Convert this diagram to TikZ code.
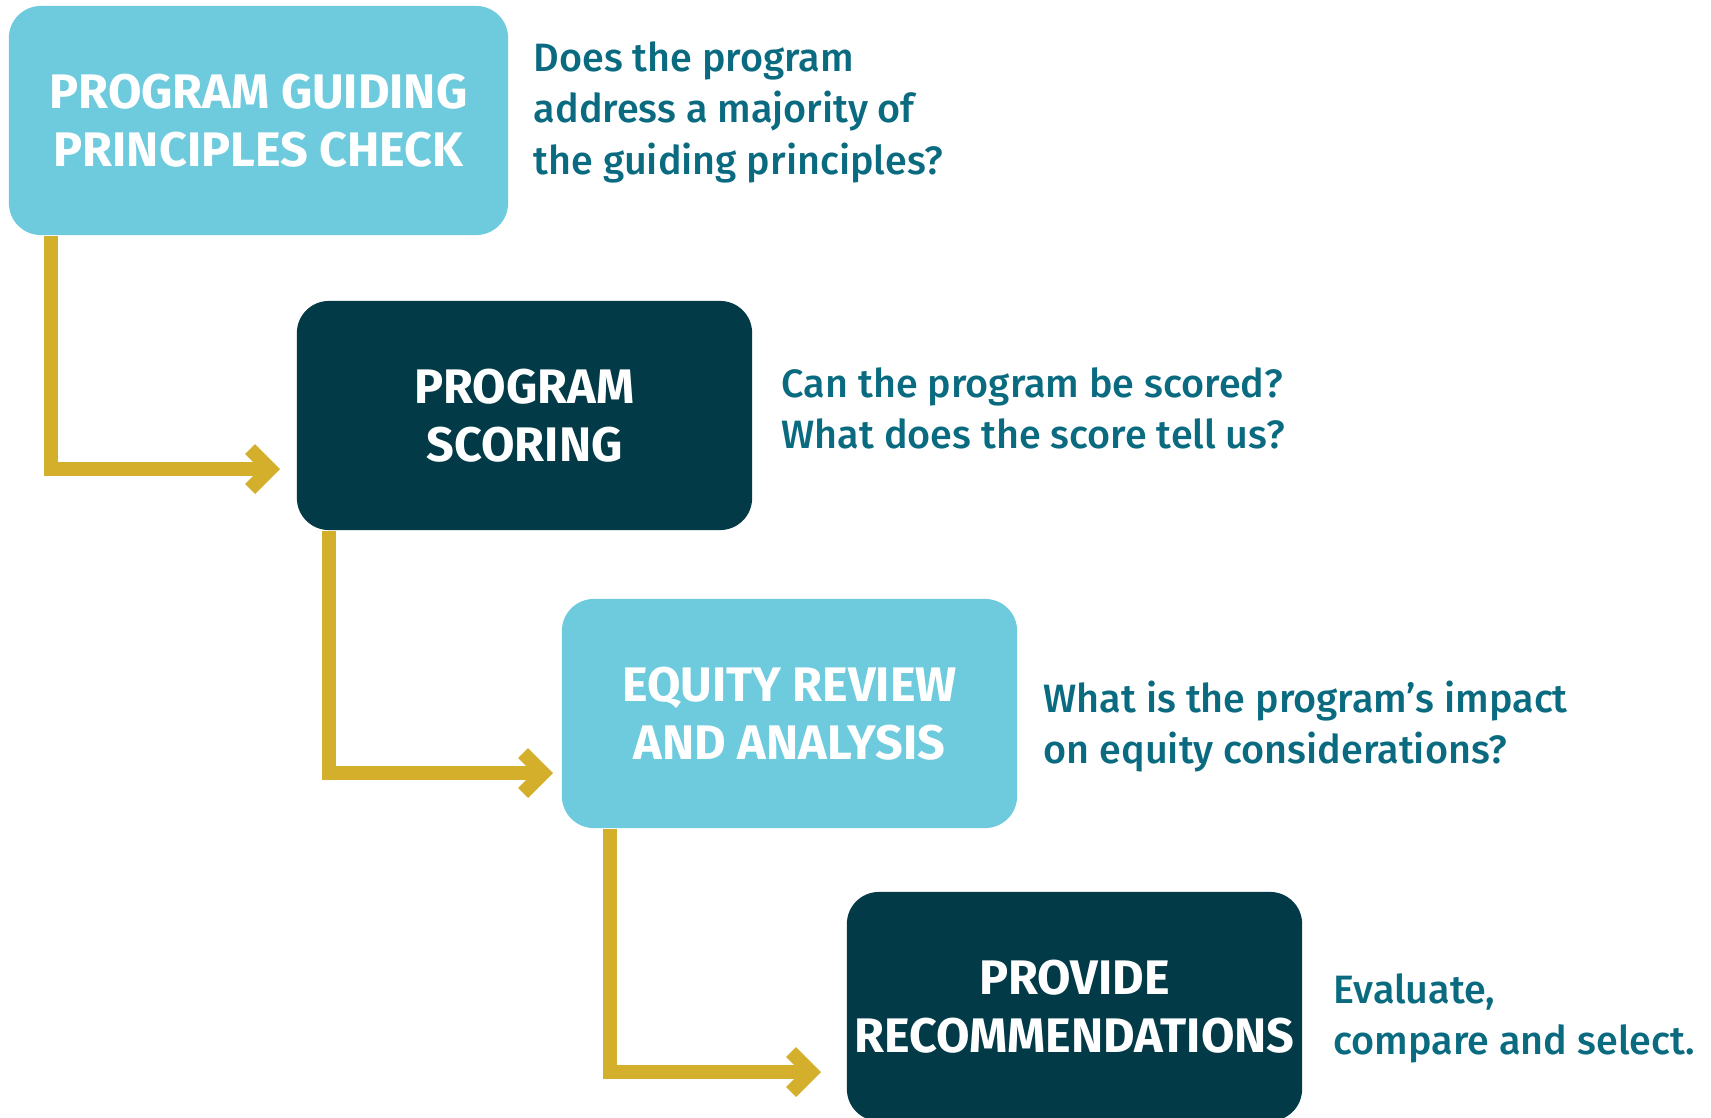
\documentclass[tikz,border=0pt]{standalone}
\usepackage{fontspec}
\setmainfont{Fira Sans}
\newfontfamily\askfont{Fira Sans Medium}
\definecolor{pLightTeal}{HTML}{6DCBDD}
\definecolor{pDarkTeal}{HTML}{023A47}
\definecolor{pGold}{HTML}{D3AF2B}
\definecolor{pInk}{HTML}{0A6B80}
\usetikzlibrary{arrows.meta,calc}
\tikzset{
 stepbox/.style={rounded corners=0.32cm, minimum height=2.29cm, inner sep=0pt, align=center, text=white, font=\fontsize{13.8}{16.5}\selectfont\bfseries},
 asktext/.style={anchor=north west, inner sep=0pt, align=left, text=pInk, font=\askfont\fontsize{11.25}{14.6}\selectfont},
 flow/.style={draw=pGold, line width=0.14cm, line join=miter, -{Straight Barb[length=0.2cm,width=0.4cm]}}
}
\newcommand{\stepnode}[6]{%
 \node[stepbox, fill=#5, minimum width=#6] (#3) at (#1,#2) {#4};}

\begin{document}
\begin{tikzpicture}[x=0.01cm,y=-0.01cm]
\useasboundingbox (0,0) rectangle (1711,1118);
\stepnode{258.5}{120.5}{guide}{PROGRAM GUIDING\\PRINCIPLES CHECK}{pLightTeal}{4.99cm}
\stepnode{524.5}{415.5}{score}{PROGRAM\\SCORING}{pDarkTeal}{4.55cm}
\stepnode{789.5}{713.5}{equity}{EQUITY REVIEW\\AND ANALYSIS}{pLightTeal}{4.55cm}
\stepnode{1074.5}{1006.5}{recom}{PROVIDE\\RECOMMENDATIONS}{pDarkTeal}{4.55cm}
\node[asktext] (guideq) at (533,41) {Does the program\\address a majority of\\the guiding principles?};
\node[asktext] (scoreq) at (781,367) {Can the program be scored?\\What does the score tell us?};
\node[asktext] (equityq) at (1043,680) {What is the program’s impact\\on equity considerations?};
\node[asktext] (recomq) at (1333,973) {Evaluate,\\compare and select.};
\coordinate (k1) at (51,469);
\coordinate (e1) at (280,469);
\coordinate (k2) at (329,773);
\coordinate (e2) at (553,773);
\coordinate (k3) at (610,1072);
\coordinate (e3) at (821,1072);
\draw[flow] (guide.south -| k1) |- (e1);
\draw[flow] (score.south -| k2) |- (e2);
\draw[flow] (equity.south -| k3) |- (e3);
\end{tikzpicture}
\end{document}
